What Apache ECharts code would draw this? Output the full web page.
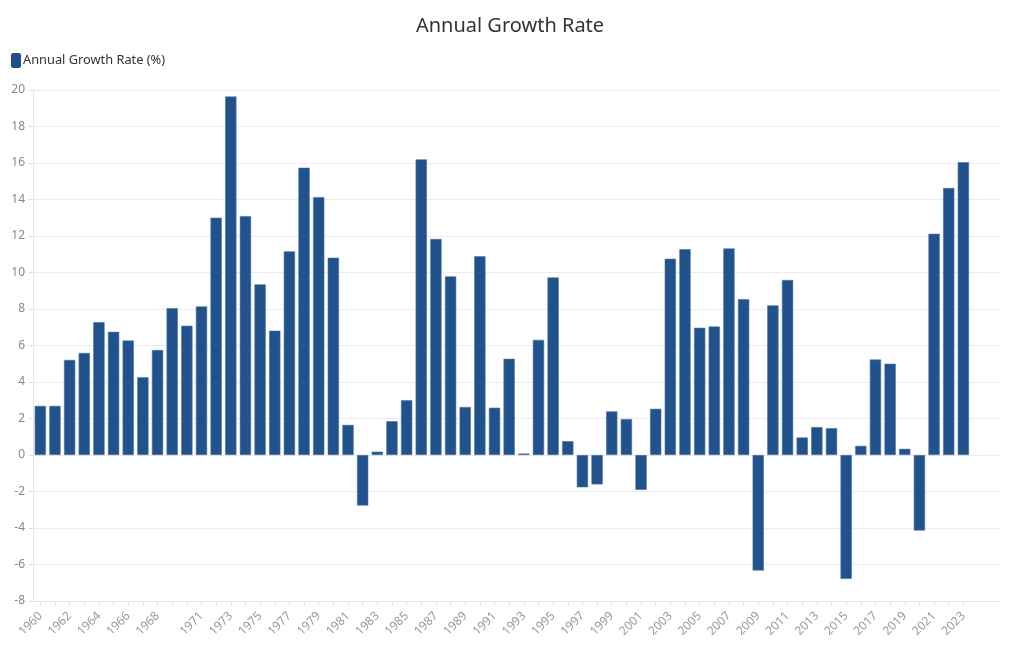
<!DOCTYPE html>
<html>
<head>
<meta charset="utf-8">
<script src="https://cdn.jsdelivr.net/npm/echarts@6/dist/echarts.min.js"></script>
<style>html,body{margin:0;padding:0;background:#fff}#c{width:1020px;height:650px}</style>
</head>
<body>
<div id="c"></div>
<script>
const years = ['1960','1961','1962','1963','1964','1965','1966','1967','1968','1969',
  '1970','1971','1972','1973','1974','1975','1976','1977','1978','1979',
  '1980','1981','1982','1983','1984','1985','1986','1987','1988','1989',
  '1990','1991','1992','1993','1994','1995','1996','1997','1998','1999',
  '2000','2001','2002','2003','2004','2005','2006','2007','2008','2009',
  '2010','2011','2012','2013','2014','2015','2016','2017','2018','2019',
  '2020','2021','2022','2023'];
const growthRate = [2.69,2.69,5.21,5.59,7.28,6.75,6.27,4.26,5.75,8.04,
  7.08,8.14,13.0,19.64,13.09,9.35,6.81,11.16,15.74,14.13,
  10.81,1.65,-2.77,0.18,1.85,3.0,16.2,11.84,9.79,2.63,
  10.89,2.59,5.27,0.08,6.31,9.73,0.76,-1.77,-1.61,2.39,
  1.97,-1.91,2.53,10.75,11.28,6.97,7.04,11.32,8.54,-6.33,
  8.2,9.59,0.96,1.53,1.47,-6.79,0.5,5.23,5.0,0.34,
  -4.14,12.12,14.63,16.04];
const seriesName = 'Annual Growth Rate (%)';
const chartTitle = 'Annual Growth Rate';
// two empty slots of axis room after the last year
const padSlots = ['', ' '];

const nYears = years.length;
const axisCats = years.concat(padSlots);
const FONT = '"Noto Sans", "Open Sans", sans-serif';

const chart = echarts.init(document.getElementById('c'));
chart.setOption({
  animation: false,
  title: {
    text: chartTitle, left: 'center', top: 11,
    textStyle: {fontFamily: FONT, fontSize: 20, fontWeight: 'normal', color: '#333'}
  },
  legend: {
    left: 6, top: 48,
    itemWidth: 10, itemHeight: 15, itemGap: 10,
    icon: 'roundRect',
    itemStyle: {borderWidth: 0, color: '#1f4f88'},
    textStyle: {fontFamily: FONT, fontSize: 12.8, color: '#333', padding: [0, 0, 0, -3]},
    data: [seriesName]
  },
  grid: {left: 33, right: 20, top: 90, bottom: 49, containLabel: false},
  xAxis: {
    type: 'category',
    data: axisCats,
    axisLine: {show: true, onZero: false, lineStyle: {color: '#e6e6e6'}},
    axisTick: {
      show: true, alignWithLabel: true, length: 4,
      interval: function (i) { return i < nYears; },
      lineStyle: {color: '#dcdcdc'}
    },
    axisLabel: {
      rotate: 45, fontFamily: FONT, fontSize: 12, color: '#999', margin: 13,
      interval: function (i) {
        return (i <= 8 && i % 2 === 0) || (i >= 11 && i < nYears && i % 2 === 1);
      }
    },
    splitLine: {show: false}
  },
  yAxis: {
    type: 'value', min: -8, max: 20, interval: 2,
    axisLine: {show: true, lineStyle: {color: '#e6e6e6'}},
    axisTick: {show: true, length: 4, lineStyle: {color: '#dcdcdc'}},
    axisLabel: {fontFamily: FONT, fontSize: 12, color: '#888', margin: 8},
    splitLine: {show: true, lineStyle: {color: '#ececec'}}
  },
  series: [{
    name: seriesName,
    type: 'bar',
    data: growthRate,
    barCategoryGap: '23%',
    itemStyle: {color: '#21528b', borderColor: '#4d74a6', borderWidth: 0.6}
  }]
});
</script>
</body>
</html>
